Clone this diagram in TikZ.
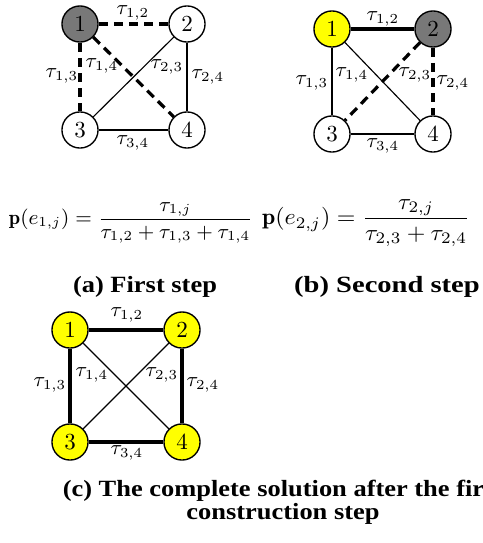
\documentclass[tikz,border=0pt]{standalone}
\usepackage{amsmath,amssymb}
\usepackage{fontspec}
\newfontfamily\capfont{Liberation Serif}
\usepackage{tikz}
\usetikzlibrary{positioning}
\definecolor{visited}{RGB}{120,120,120}
\definecolor{chosen}{RGB}{255,255,0}
\tikzset{
  city/.style={circle, draw=black, line width=0.6pt, fill=white, minimum size=15.7pt, inner sep=0pt, font=\normalsize},
  startcity/.style={city, fill=visited},
  tourcity/.style={city, fill=chosen},
  link/.style={line width=0.5pt},
  probe/.style={line width=1.4pt, dash pattern=on 4pt off 2.6pt},
  tourlink/.style={line width=2pt},
  weight/.style={inner sep=0pt, font=\fontsize{9}{11}\selectfont},
  formula/.style={inner sep=0pt, font=\fontsize{8.9}{11}\selectfont},
  subcap/.style={inner sep=0pt, align=center, yscale=0.88, font=\capfont\bfseries\fontsize{11.5}{10}\selectfont}
}

\begin{document}
\begin{tikzpicture}[x=0.435pt, y=-0.435pt]
\useasboundingbox (0,0) rectangle (482,543);
\clip (0,0) rectangle (482,543);

% (a) first step
\node[startcity] (a1) at (80,24) {1};
\node[city] (a2) at (187,24) {2};
\node[city] (a3) at (80,130) {3};
\node[city] (a4) at (187,130) {4};
\draw[probe] (a1) -- (a2);
\draw[probe] (a1) -- (a3);
\draw[probe] (a1) -- (a4);
\draw[link] (a2) -- (a3);
\draw[link] (a2) -- (a4);
\draw[link] (a3) -- (a4);
\node[weight] (a12) at (133,13) {$\tau_{1,2}$};
\node[weight] (a13) at (62,76) {$\tau_{1,3}$};
\node[weight] (a14) at (102,66) {$\tau_{1,4}$};
\node[weight] (a23) at (167,67) {$\tau_{2,3}$};
\node[weight] (a24) at (208,77) {$\tau_{2,4}$};
\node[weight] (a34) at (133,143) {$\tau_{3,4}$};

% (b) second step
\node[tourcity] (b1) at (332,29) {1};
\node[startcity] (b2) at (433,29) {2};
\node[city] (b3) at (332,134) {3};
\node[city] (b4) at (433,134) {4};
\draw[tourlink] (b1) -- (b2);
\draw[probe] (b2) -- (b3);
\draw[probe] (b2) -- (b4);
\draw[link] (b1) -- (b3);
\draw[link] (b1) -- (b4);
\draw[link] (b3) -- (b4);
\node[weight] (b12) at (383,19) {$\tau_{1,2}$};
\node[weight] (b13) at (312,83) {$\tau_{1,3}$};
\node[weight] (b14) at (352,75) {$\tau_{1,4}$};
\node[weight] (b23) at (415,75) {$\tau_{2,3}$};
\node[weight] (b24) at (453,83) {$\tau_{2,4}$};
\node[weight] (b34) at (383,146) {$\tau_{3,4}$};

% transition probabilities
\node[formula] (pa) at (131,223) {$\mathbf{p}(e_{1,j}) = \dfrac{\tau_{1,j}}{\tau_{1,2}+\tau_{1,3}+\tau_{1,4}}$};
\node[formula, xscale=1.04, font=\fontsize{10}{12}\selectfont] (pb) at (366,223) {$\mathbf{p}(e_{2,j}) = \dfrac{\tau_{2,j}}{\tau_{2,3}+\tau_{2,4}}$};
\node[subcap] (capa) at (145,287) {(a) First step};
\node[subcap, xscale=1.08] (capb) at (387,287) {(b) Second step};

% (c) complete solution
\node[tourcity] (c1) at (70,330) {1};
\node[tourcity] (c2) at (182,330) {2};
\node[tourcity] (c3) at (70,442) {3};
\node[tourcity] (c4) at (182,442) {4};
\draw[tourlink] (c1) -- (c2);
\draw[tourlink] (c1) -- (c3);
\draw[tourlink] (c2) -- (c4);
\draw[tourlink] (c3) -- (c4);
\draw[link] (c1) -- (c4);
\draw[link] (c2) -- (c3);
\node[weight] (c12) at (127,315) {$\tau_{1,2}$};
\node[weight] (c13) at (50,385) {$\tau_{1,3}$};
\node[weight] (c14) at (92,375) {$\tau_{1,4}$};
\node[weight] (c23) at (162,375) {$\tau_{2,3}$};
\node[weight] (c24) at (203,385) {$\tau_{2,4}$};
\node[weight] (c34) at (127,453) {$\tau_{3,4}$};
\node[subcap] (capc) at (283,502) {(c) The complete solution after the first\\construction step};
\end{tikzpicture}
\end{document}
